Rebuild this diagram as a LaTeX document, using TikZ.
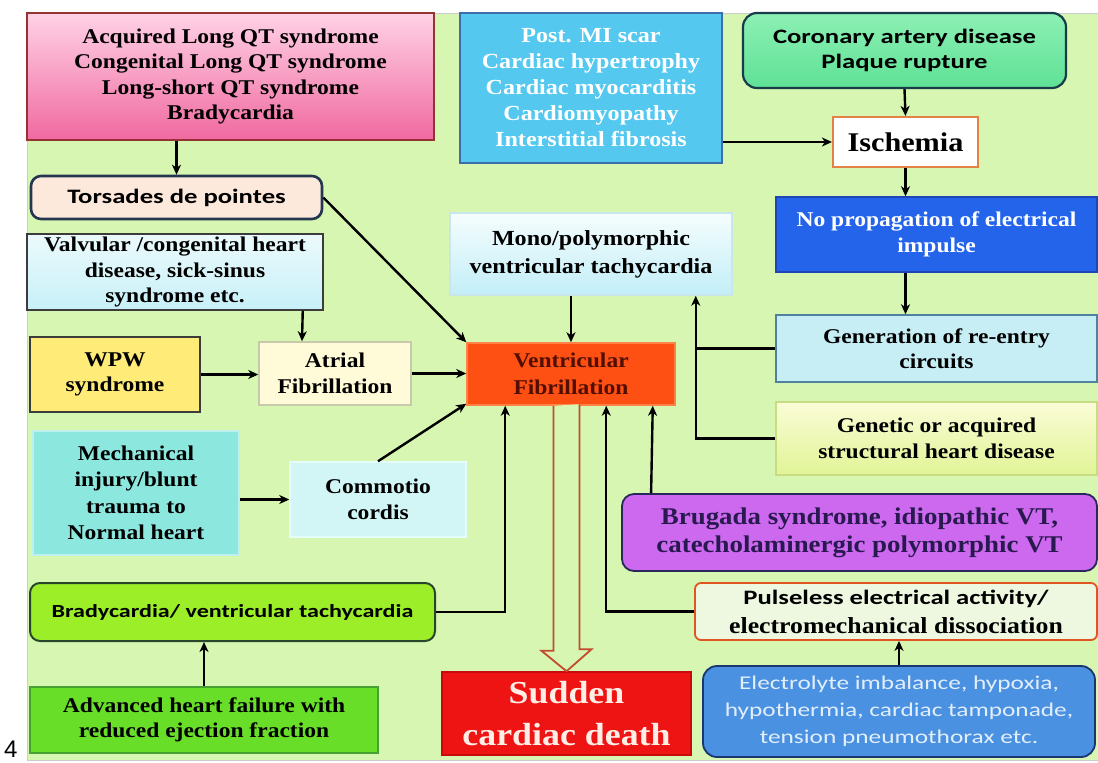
\documentclass[tikz,border=0pt]{standalone}
\usepackage{fontspec}
\setmainfont{Liberation Serif}[FakeStretch=1.12]
\newfontfamily\calibri{Carlito}[FakeStretch=1.3]
\newfontfamily\plainsans{Liberation Sans}
\usetikzlibrary{arrows.meta}

\definecolor{bgGreen}{RGB}{214,246,178}
\definecolor{pinkTop}{RGB}{255,210,230}
\definecolor{pinkBot}{RGB}{240,105,160}
\definecolor{pinkLine}{RGB}{150,50,50}
\definecolor{torsFill}{RGB}{253,233,220}
\definecolor{slateLine}{RGB}{35,55,80}
\definecolor{valvTop}{RGB}{235,250,252}
\definecolor{valvBot}{RGB}{200,240,248}
\definecolor{darkLine}{RGB}{60,60,60}
\definecolor{wpwFill}{RGB}{255,236,120}
\definecolor{atrFill}{RGB}{255,250,215}
\definecolor{paleLine}{RGB}{200,200,170}
\definecolor{mechFill}{RGB}{140,232,222}
\definecolor{mechLine}{RGB}{190,240,238}
\definecolor{comFill}{RGB}{210,245,245}
\definecolor{comLine}{RGB}{228,252,252}
\definecolor{bradyFill}{RGB}{155,238,40}
\definecolor{bradyLine}{RGB}{40,70,40}
\definecolor{hfFill}{RGB}{105,222,40}
\definecolor{hfLine}{RGB}{70,160,50}
\definecolor{miFill}{RGB}{85,200,240}
\definecolor{miLine}{RGB}{60,110,170}
\definecolor{cadTop}{RGB}{140,240,180}
\definecolor{cadBot}{RGB}{95,225,150}
\definecolor{cadLine}{RGB}{25,60,75}
\definecolor{ischLine}{RGB}{225,130,70}
\definecolor{npFill}{RGB}{35,100,235}
\definecolor{npLine}{RGB}{30,70,180}
\definecolor{monoTop}{RGB}{245,253,253}
\definecolor{monoBot}{RGB}{195,238,248}
\definecolor{monoLine}{RGB}{200,230,235}
\definecolor{vfFill}{RGB}{255,80,20}
\definecolor{vfLine}{RGB}{255,130,70}
\definecolor{vfText}{RGB}{80,15,0}
\definecolor{genFill}{RGB}{200,238,245}
\definecolor{genLine}{RGB}{80,130,160}
\definecolor{geneTop}{RGB}{250,252,215}
\definecolor{geneBot}{RGB}{225,244,150}
\definecolor{geneLine}{RGB}{200,220,130}
\definecolor{brugFill}{RGB}{205,105,238}
\definecolor{brugLine}{RGB}{40,40,90}
\definecolor{brugText}{RGB}{40,25,80}
\definecolor{pulseFill}{RGB}{238,248,225}
\definecolor{pulseLine}{RGB}{225,85,35}
\definecolor{elecFill}{RGB}{75,145,225}
\definecolor{elecLine}{RGB}{25,55,110}
\definecolor{elecText}{RGB}{225,238,252}
\definecolor{scdFill}{RGB}{238,20,20}
\definecolor{scdLine}{RGB}{200,10,10}
\definecolor{scdText}{RGB}{255,238,230}
\definecolor{arrowRed}{RGB}{195,75,45}

\newcommand{\serifbf}{\fontsize{21}{25.5}\selectfont\bfseries}
\newcommand{\sansbf}{\calibri\fontsize{20.5}{25}\selectfont\bfseries}

\tikzstyle{cause}=[draw, align=center, inner sep=0pt, line width=1.5pt, font=\serifbf]
\tikzstyle{round cause}=[cause, rounded corners=10pt]
\tikzstyle{link}=[line width=2.4pt, -{Stealth[length=10pt,width=9pt,inset=3pt]}]
\tikzstyle{plain link}=[line width=2.4pt]
\tikzstyle{hollow arrow}=[line width=1.8pt, draw=arrowRed, fill=bgGreen, line join=miter]

\begin{document}
\begin{tikzpicture}[x=1pt, y=-1pt]
      \useasboundingbox (0,0) rectangle (1098,763);
      \fill[bgGreen, draw=black!20] (27,13) rectangle (1098,760);
      \node[font=\plainsans\fontsize{24}{24}\selectfont, anchor=base west, inner sep=0pt] (pagenum) at (4,757) {4};

      % left column
      \node[cause, top color=pinkTop, bottom color=pinkBot, draw=pinkLine,
        minimum width=407pt, minimum height=127pt] (lqt) at (230.5,76.5)
        {Acquired Long QT syndrome\\Congenital Long QT syndrome\\Long-short QT syndrome\\Bradycardia};
      \node[round cause, fill=torsFill, draw=slateLine, line width=2.6pt, font=\sansbf,
        minimum width=291pt, minimum height=43pt] (torsades) at (176.5,197.5) {Torsades de pointes};
      \node[cause, top color=valvTop, bottom color=valvBot, draw=darkLine,
        minimum width=296pt, minimum height=76pt] (valvular) at (175,272)
        {Valvular /congenital heart\\disease, sick-sinus\\syndrome etc.};
      \node[cause, fill=wpwFill, draw=darkLine, minimum width=170pt, minimum height=75pt] (wpw) at (115,374.5) {WPW\\syndrome};
      \node[cause, fill=atrFill, draw=paleLine, minimum width=152pt, minimum height=63pt] (atrial) at (335,373.5) {Atrial\\Fibrillation};
      \node[cause, fill=mechFill, draw=mechLine, font=\fontsize{21}{26.5}\selectfont\bfseries,
        minimum width=206pt, minimum height=124pt] (mech) at (136,493)
        {Mechanical\\injury/blunt\\trauma to\\Normal heart};
      \node[cause, fill=comFill, draw=comLine, minimum width=176pt, minimum height=75pt] (commotio) at (378,499.5) {Commotio\\cordis};
      \node[round cause, fill=bradyFill, draw=bradyLine, line width=2pt,
        font=\calibri\fontsize{18.5}{22}\selectfont\bfseries,
        minimum width=405pt, minimum height=58pt] (brady) at (232.5,612) {Bradycardia/ ventricular tachycardia};
      \node[cause, fill=hfFill, draw=hfLine, minimum width=348pt, minimum height=66pt] (hf) at (204,720)
        {Advanced heart failure with\\reduced ejection fraction};

      % centre column
      \node[cause, fill=miFill, draw=miLine, text=white, font=\fontsize{21.5}{26}\selectfont\bfseries,
        minimum width=262pt, minimum height=150pt] (postmi) at (591,88)
        {Post. MI scar\\Cardiac hypertrophy\\Cardiac myocarditis\\Cardiomyopathy\\Interstitial fibrosis};
      \node[cause, top color=monoTop, bottom color=monoBot, draw=monoLine, font=\fontsize{21.5}{28}\selectfont\bfseries,
        minimum width=282pt, minimum height=82pt] (mono) at (591,254)
        {Mono/polymorphic\\ventricular tachycardia};
      \node[cause, fill=vfFill, draw=vfLine, text=vfText, font=\fontsize{21}{27}\selectfont\bfseries,
        minimum width=208pt, minimum height=62pt] (vf) at (571,374) {Ventricular\\Fibrillation};
      \node[cause, fill=scdFill, draw=scdLine, text=scdText, font=\fontsize{32}{42}\selectfont\bfseries,
        minimum width=249pt, minimum height=83pt] (scd) at (566.5,713.5) {Sudden\\cardiac death};

      % right column
      \node[round cause, top color=cadTop, bottom color=cadBot, draw=cadLine, line width=2.2pt, rounded corners=14pt,
        font=\sansbf, minimum width=323pt, minimum height=75pt] (cad) at (904.5,50.5)
        {Coronary artery disease\\Plaque rupture};
      \node[cause, fill=white, draw=ischLine, line width=2.2pt, font=\fontsize{27}{30}\selectfont\bfseries,
        minimum width=145pt, minimum height=50pt] (isch) at (905.5,142) {Ischemia};
      \node[cause, fill=npFill, draw=npLine, text=white, minimum width=321pt, minimum height=75pt] (noprop) at (936.5,234.5)
        {No propagation of electrical\\impulse};
      \node[cause, fill=genFill, draw=genLine, minimum width=321pt, minimum height=67pt] (gen) at (936.5,348.5)
        {Generation of re-entry\\circuits};
      \node[cause, top color=geneTop, bottom color=geneBot, draw=geneLine, minimum width=321pt, minimum height=73pt] (genetic) at (936.5,438.5)
        {Genetic or acquired\\structural heart disease};
      \node[round cause, fill=brugFill, draw=brugLine, line width=1.8pt, text=brugText, rounded corners=12pt,
        font=\fontsize{24}{28}\selectfont\bfseries,
        minimum width=475pt, minimum height=77pt] (brugada) at (859.5,532.5)
        {Brugada syndrome, idiopathic VT,\\catecholaminergic polymorphic VT};
      \node[round cause, fill=pulseFill, draw=pulseLine, line width=1.8pt, rounded corners=6pt,
        font=\fontsize{23}{29}\selectfont\bfseries,
        minimum width=402pt, minimum height=57pt] (pulseless) at (896,611.5)
        {{\calibri\fontsize{20.5}{29}\selectfont\bfseries Pulseless electrical activity/}\\electromechanical dissociation};
      \node[round cause, fill=elecFill, draw=elecLine, line width=1.8pt, text=elecText, rounded corners=14pt,
        font=\calibri\fontsize{19.5}{27}\selectfont,
        minimum width=392pt, minimum height=91pt] (electro) at (899,711.5)
        {Electrolyte imbalance, hypoxia,\\hypothermia, cardiac tamponade,\\tension pneumothorax etc.};

      \coordinate (split) at ([xshift=-37pt]mono.south east);

      % connectors
      \draw[link] (lqt.south -| torsades.north) to (torsades.north);
      \draw[link] (torsades.east) to (vf.north west);
      \draw[link] ([xshift=-21pt]valvular.south east) to ([xshift=-33pt]atrial.north);
      \draw[link] (wpw.east) to (wpw.east -| atrial.west);
      \draw[link] (atrial.east) to (atrial.east -| vf.west);
      \draw[link] (mech.east |- commotio.west) to (commotio.west);
      \draw[link] (commotio.north) to ([yshift=2pt]vf.south west);
      \draw[link] (brady.east) -| ([xshift=39pt]vf.south west);
      \draw[link] (hf.north) to (hf.north |- brady.south);
      \draw[link] (vf.north |- mono.south) to (vf.north);
      \draw[link] (genetic.west) -| (split);
      \draw[plain link] (gen.west) to (gen.west -| split);
      \draw[link] (cad.south) to (isch.north);
      \draw[link] (isch.south) to (isch.south |- noprop.north);
      \draw[link] (isch.south |- noprop.south) to (isch.south |- gen.north);
      \draw[link] (postmi.east |- isch.west) to (isch.west);
      \draw[link] ([xshift=30pt]brugada.north west) to ([xshift=-23pt]vf.south east);
      \draw[link] (pulseless.west) -| ([xshift=140pt]vf.south west);
      \draw[link] (electro.north) to (electro.north |- pulseless.south);
      \draw[hollow arrow] ([xshift=-13pt]vf.south -| scd.north)
        -- ++(0,245) -- ++(-12,0)
        -- (scd.north)
        -- ++(25,-22) -- ++(-12,0)
        -- ++(0,-245);
    \end{tikzpicture}
\end{document}
